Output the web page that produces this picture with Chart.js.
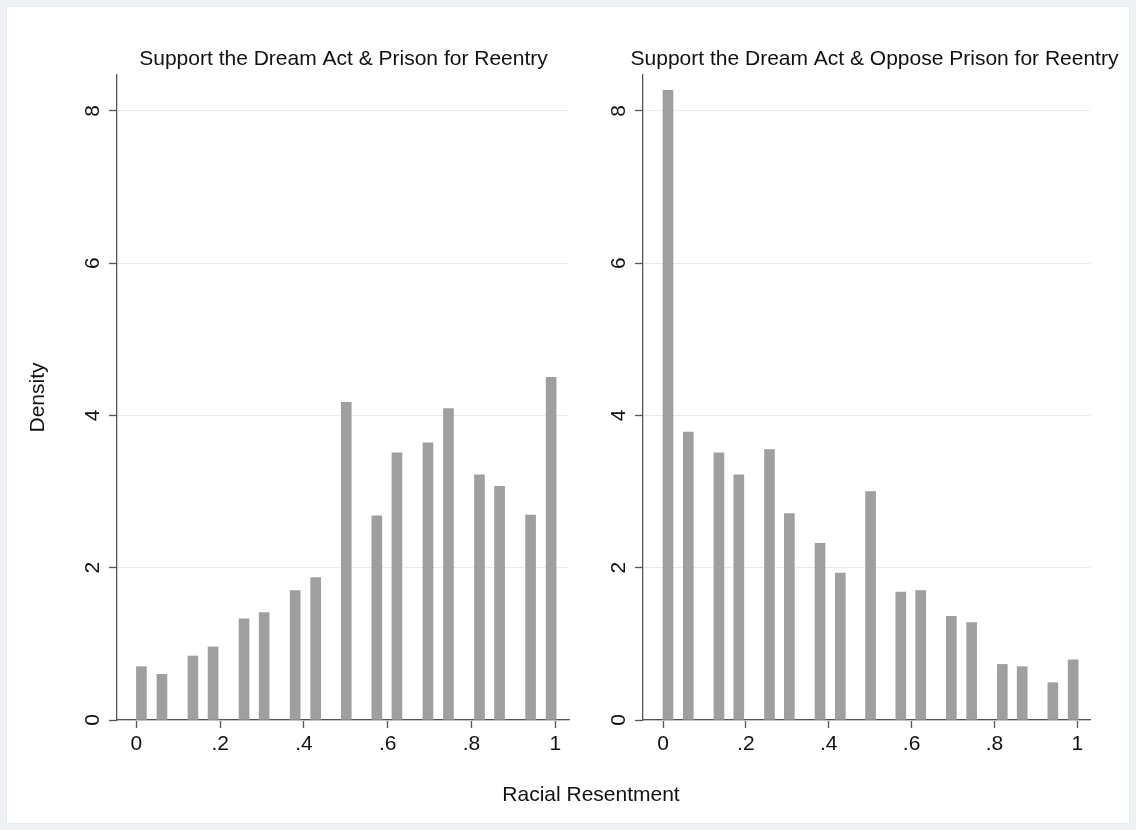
<!DOCTYPE html>
<html lang="en">

<head>
    <meta charset="UTF-8">
    <title>Racial Resentment</title>
    <script src="https://cdn.jsdelivr.net/npm/chart.js"></script>
    <style>
        body {
            margin: 0;
            width: 1136px;
            height: 830px;
            overflow: hidden;
            background: #eef2f4;
            position: relative;
            font-family: "Liberation Sans", Arial, sans-serif;
        }

        .frame {
            position: absolute;
            left: 6px;
            top: 6px;
            width: 1122px;
            height: 816px;
            background: #fff;
            border: 1px solid #e4eaed;
        }

        canvas {
            position: absolute;
            top: 0;
        }

        #grafico-esq {
            left: 0;
        }

        #grafico-dir {
            left: 595px;
        }

        .x-title {
            position: absolute;
            left: 391px;
            width: 400px;
            top: 782px;
            text-align: center;
            font-size: 21px;
            color: #111;
        }
    </style>
</head>

<body>
    <div class="frame"></div>
    <canvas id="grafico-esq" width="687" height="830"></canvas>
    <canvas id="grafico-dir" width="559" height="830"></canvas>
    <div class="x-title">Racial Resentment</div>

    <script>
        // bar midpoints (racial resentment) and densities
        const xMid = [0.012, 0.061, 0.135, 0.183, 0.257, 0.305, 0.379, 0.428, 0.501,
            0.574, 0.622, 0.696, 0.745, 0.819, 0.867, 0.941, 0.990];
        const supportPrison = [0.70, 0.60, 0.84, 0.96, 1.33, 1.41, 1.70, 1.87, 4.17,
            2.68, 3.51, 3.64, 4.09, 3.22, 3.07, 2.69, 4.50];
        const opposePrison = [8.27, 3.78, 3.51, 3.22, 3.55, 2.71, 2.32, 1.93, 3.00,
            1.68, 1.70, 1.36, 1.28, 0.73, 0.70, 0.49, 0.79];
        const xTickVals = [0, 0.2, 0.4, 0.6, 0.8, 1];
        const xTickText = ['0', '.2', '.4', '.6', '.8', '1'];
        const yTickVals = [0, 2, 4, 6, 8];

        const fonte = '"Liberation Sans", Arial, sans-serif';
        const corEixo = '#555555';
        Chart.defaults.font.family = fonte;
        Chart.defaults.color = '#111111';

        function criarPainel(id, titulo, valores, cfg) {
            const pontos = xMid.map(function (x, i) {
                return { x: x, y: valores[i] };
            });

            const escalas = {
                x: {
                    type: 'linear',
                    min: cfg.xMin,
                    max: cfg.xMax,
                    offset: false,
                    afterBuildTicks: function (s) {
                        s.ticks = xTickVals.map(function (v) { return { value: v }; });
                    },
                    afterFit: function (s) { s.height = 50; },
                    grid: {
                        display: true,
                        offset: false,
                        drawOnChartArea: false,
                        drawTicks: true,
                        tickLength: 8,
                        color: corEixo,
                        tickColor: corEixo,
                        tickWidth: 1.3
                    },
                    border: { display: true, color: corEixo, width: 1.3 },
                    ticks: {
                        autoSkip: false,
                        maxRotation: 0,
                        padding: 4,
                        font: { size: 21 },
                        callback: function (v) { return xTickText[xTickVals.indexOf(v)]; }
                    }
                },
                y: {
                    type: 'linear',
                    position: 'left',
                    min: 0,
                    max: 8.47,
                    afterBuildTicks: function (s) {
                        s.ticks = yTickVals.map(function (v) { return { value: v }; });
                    },
                    afterFit: function (s) { s.width = cfg.yLargura; },
                    grid: {
                        color: '#ebebeb',
                        lineWidth: 1,
                        tickColor: corEixo,
                        tickLength: 8,
                        tickWidth: 1.3
                    },
                    border: { display: true, color: corEixo, width: 1.3 },
                    ticks: {
                        minRotation: 90,
                        maxRotation: 90,
                        crossAlign: 'center',
                        padding: 10,
                        font: { size: 21 },
                        callback: function (v) { return String(v); }
                    },
                    title: {
                        display: cfg.mostrarDensity,
                        text: 'Density',
                        font: { size: 21 },
                        padding: { top: 26, bottom: 0 }
                    }
                },
                // eixo vazio so para reservar espaco a direita
                yDir: {
                    type: 'linear',
                    position: 'right',
                    display: true,
                    afterFit: function (s) { s.width = cfg.dirLargura; },
                    grid: { display: false },
                    border: { display: false },
                    ticks: { display: false }
                }
            };

            return new Chart(document.getElementById(id), {
                type: 'bar',
                data: {
                    datasets: [{
                        data: pontos,
                        yAxisID: 'y',
                        backgroundColor: '#9f9f9f',
                        borderWidth: 0,
                        barThickness: 10
                    }]
                },
                options: {
                    responsive: false,
                    animation: false,
                    layout: { padding: { left: 0, right: 0, top: 0, bottom: 60 } },
                    plugins: {
                        legend: { display: false },
                        tooltip: { enabled: false },
                        title: {
                            display: true,
                            text: titulo,
                            font: { size: 21, weight: 'normal' },
                            color: '#111111',
                            padding: { top: 46.4, bottom: 3.4 }
                        }
                    },
                    scales: escalas
                }
            });
        }

        criarPainel('grafico-esq', 'Support the Dream Act & Prison for Reentry', supportPrison, {
            xMin: -0.0463, xMax: 1.0327, yLargura: 117, dirLargura: 118, mostrarDensity: true
        });

        criarPainel('grafico-dir', 'Support the Dream Act & Oppose Prison for Reentry', opposePrison, {
            xMin: -0.0483, xMax: 1.0307, yLargura: 48, dirLargura: 64, mostrarDensity: false
        });
    </script>
</body>

</html>
